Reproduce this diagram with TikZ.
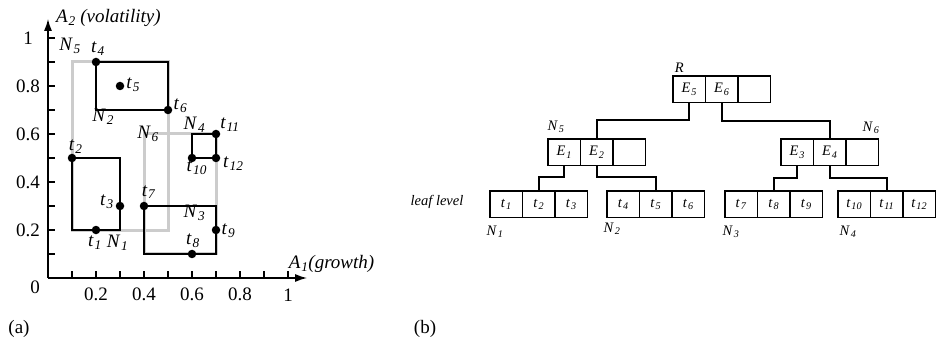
\documentclass[tikz,border=0pt]{standalone}
\usepackage{fontspec}
\setmainfont{Liberation Serif}
\usetikzlibrary{arrows.meta,positioning,calc}
\newcommand{\lbl}[2]{\textit{#1}\textsubscript{\kern0.8pt\textit{#2}}}
\tikzset{
  cell/.style={draw,minimum width=32.5pt,minimum height=26.5pt,inner sep=0pt,outer sep=0pt},
  dot/.style={circle,fill,inner sep=0pt,minimum size=8.5pt},
  mbr/.style={line width=1.7pt},
  mbrgray/.style={line width=3pt,black!20},
}

\begin{document}
\begin{tikzpicture}[>={Latex[length=12pt,width=8pt]},line width=1.7pt]
\useasboundingbox (0,0) rectangle (936pt,340pt);

% (a) the data space
\begin{scope}[x=240pt,y=240pt,shift={(48pt,62pt)},font=\fontsize{19}{21}\selectfont]
\coordinate (o) at (0,0);
\coordinate (xend) at (1.08,0);
\coordinate (yend) at (0,1.08);
\draw[->] (o) -- (xend);
\draw[->] (o) -- (yend);
\foreach \i in {1,...,10} {
  \draw (\i/10,0) -- ++(0,0.028);
  \draw (0,\i/10) -- ++(0.028,0);
}
\foreach \v/\t in {0.2/0.2,0.4/0.4,0.6/0.6,0.8/0.8,1/1} {
  \node (xl\t) at (\v,-0.07) {\t};
  \node (yl\t) at (-0.083,\v) {\t};
}
\node (zl) at (-0.054,-0.04) {0};
\node[anchor=west,inner sep=0pt] (ya) at (0.03,1.083) {\lbl{A}{2} \textit{(volatility)}};
\node[anchor=west,inner sep=0pt] (xa) at (1.0,0.058) {\lbl{A}{1}\textit{(growth)}};

% bounding rectangles
\draw[mbrgray] (0.1,0.2) rectangle (0.5,0.9);
\draw[mbrgray] (0.4,0.1) rectangle (0.7,0.6);
\draw[mbr] (0.1,0.2) rectangle (0.3,0.5);
\draw[mbr] (0.2,0.7) rectangle (0.5,0.9);
\draw[mbr] (0.4,0.1) rectangle (0.7,0.3);
\draw[mbr] (0.6,0.5) rectangle (0.7,0.6);

% points
\node[dot] (p1) at (0.2,0.2) {};
\node[dot] (p2) at (0.1,0.5) {};
\node[dot] (p3) at (0.3,0.3) {};
\node[dot] (p4) at (0.2,0.9) {};
\node[dot] (p5) at (0.3,0.8) {};
\node[dot] (p6) at (0.5,0.7) {};
\node[dot] (p7) at (0.4,0.3) {};
\node[dot] (p8) at (0.6,0.1) {};
\node[dot] (p9) at (0.7,0.2) {};
\node[dot] (p10) at (0.6,0.5) {};
\node[dot] (p11) at (0.7,0.6) {};
\node[dot] (p12) at (0.7,0.5) {};

\node (lp1) at (0.196,0.146) {\lbl{t}{1}};
\node (lp2) at (0.115,0.546) {\lbl{t}{2}};
\node (lp3) at (0.246,0.317) {\lbl{t}{3}};
\node (lp4) at (0.208,0.954) {\lbl{t}{4}};
\node (lp5) at (0.355,0.806) {\lbl{t}{5}};
\node (lp6) at (0.552,0.717) {\lbl{t}{6}};
\node (lp7) at (0.42,0.358) {\lbl{t}{7}};
\node (lp8) at (0.604,0.154) {\lbl{t}{8}};
\node (lp9) at (0.752,0.196) {\lbl{t}{9}};
\node (lp10) at (0.62,0.46) {\lbl{t}{10}};
\node (lp11) at (0.758,0.64) {\lbl{t}{11}};
\node (lp12) at (0.772,0.475) {\lbl{t}{12}};

\node (ln1) at (0.29,0.146) {\lbl{N}{1}};
\node (ln2) at (0.23,0.67) {\lbl{N}{2}};
\node (ln3) at (0.61,0.27) {\lbl{N}{3}};
\node (ln4) at (0.61,0.64) {\lbl{N}{4}};
\node (ln5) at (0.092,0.967) {\lbl{N}{5}};
\node (ln6) at (0.417,0.60) {\lbl{N}{6}};
\end{scope}

% (b) the R-tree
\begin{scope}[x=1pt,y=-1pt,shift={(0pt,340pt)},font=\fontsize{14.5}{16}\selectfont]
% root
\node[cell] (e5) at (689.25,89.25) {\lbl{E}{5}};
\node[cell,right=0pt of e5] (e6) {\lbl{E}{6}};
\node[cell,right=0pt of e6] (r3) {};
\node[anchor=south west,inner sep=1pt] (rl) at (673,74) {\textit{R}};

% N5 and N6
\node[cell] (e1) at (564.25,152.25) {\lbl{E}{1}};
\node[cell,right=0pt of e1] (e2) {\lbl{E}{2}};
\node[cell,right=0pt of e2] (n53) {};
\node[cell] (e3) at (797.25,152.25) {\lbl{E}{3}};
\node[cell,right=0pt of e3] (e4) {\lbl{E}{4}};
\node[cell,right=0pt of e4] (n63) {};
\node (ln5b) at (556,127) {\lbl{N}{5}};
\node (ln6b) at (871,128) {\lbl{N}{6}};

% leaves
\node[cell] (t1) at (506.25,204.25) {\lbl{t}{1}};
\node[cell,right=0pt of t1] (t2) {\lbl{t}{2}};
\node[cell,right=0pt of t2] (t3) {\lbl{t}{3}};
\node[cell] (t4) at (623.25,204.25) {\lbl{t}{4}};
\node[cell,right=0pt of t4] (t5) {\lbl{t}{5}};
\node[cell,right=0pt of t5] (t6) {\lbl{t}{6}};
\node[cell] (t7) at (741.25,204.25) {\lbl{t}{7}};
\node[cell,right=0pt of t7] (t8) {\lbl{t}{8}};
\node[cell,right=0pt of t8] (t9) {\lbl{t}{9}};
\node[cell] (t10) at (854.25,204.25) {\lbl{t}{10}};
\node[cell,right=0pt of t10] (t11) {\lbl{t}{11}};
\node[cell,right=0pt of t11] (t12) {\lbl{t}{12}};
\node (ln1b) at (495,232) {\lbl{N}{1}};
\node (ln2b) at (612,229) {\lbl{N}{2}};
\node (ln3b) at (731,232) {\lbl{N}{3}};
\node (ln4b) at (848,232) {\lbl{N}{4}};
\node (leaf) at (437,202) {\textit{leaf level}};

% pointers
\draw (e5.south) -- ++(0,17.5) -| (e2.north);
\draw (e6.south) -- ++(0,18.5) -| (e4.north);
\draw (e1.south) -- ++(0,11.5) -| (t2.north);
\draw (e2.south) -- ++(0,11.5) -| (t5.north);
\draw (e3.south) -- ++(0,12.5) -| (t8.north);
\draw (e4.south) -- ++(0,12.5) -| (t11.north);

\node (capa) at (19,329) {\fontsize{19}{21}\selectfont(a)};
\node (capb) at (425,329) {\fontsize{19}{21}\selectfont(b)};
\end{scope}
\end{tikzpicture}
\end{document}
